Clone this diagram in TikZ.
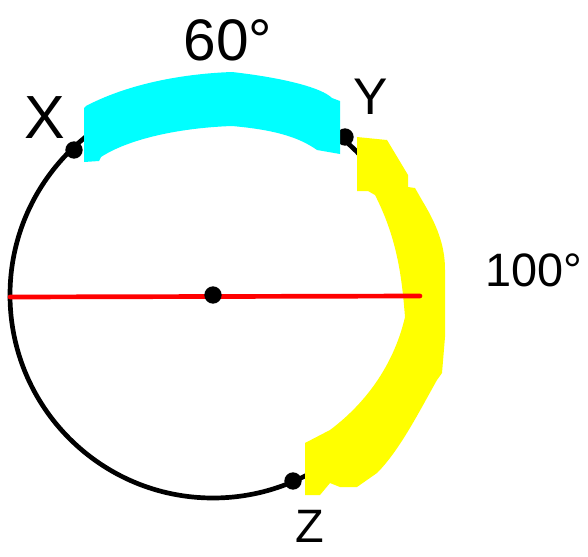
\documentclass[tikz,border=0pt]{standalone}
\usepackage{fontspec}
\setmainfont{Liberation Sans}
\usetikzlibrary{positioning}
\definecolor{Aqua}{HTML}{00FFFF}
\definecolor{Lemon}{HTML}{FFFF00}
\definecolor{Scarlet}{HTML}{FF0000}
\tikzset{
  pt/.style={circle,fill=black,inner sep=0pt,minimum size=.52cm},
  lbl/.style={inner sep=0pt,font=\fontsize{44}{50}\selectfont},
}
\begin{document}
\begin{tikzpicture}[x=.03cm,y=-.03cm,line width=4pt]
    \useasboundingbox (0,0) rectangle (588,556);
    \coordinate (O) at (213,295);
    \draw (O) circle[radius=203*.03cm];
    \node[pt] (X) at (74,150) {};
    \node[pt] (Y) at (345,137) {};
    \node[pt] (Z) at (293,481) {};
    % highlighted arcs
    \fill[Aqua] (84,108) -- (86,106) .. controls (124,86) and (176,74) .. (232,72)
      .. controls (285,78) and (322,88) .. (332,98) -- (340,101) -- (340,154)
      -- (317,150) .. controls (300,138) and (277,130) .. (232,126)
      .. controls (176,128) and (127,140) .. (101,157) -- (99,161) -- (84,162) -- cycle;
    \fill[Lemon] (357,137) -- (387,140) -- (393,150) -- (408,175) -- (408,187) -- (415,188)
      -- (423,202) .. controls (440,230) and (445,250) .. (445,270) -- (445,337)
      -- (442,373) -- (437,380) .. controls (420,410) and (400,450) .. (377,473)
      -- (357,487) -- (340,487) -- (330,483) -- (320,495) -- (305,495) -- (305,443)
      -- (330,430) .. controls (370,400) and (395,360) .. (405,317)
      .. controls (402,280) and (398,240) .. (375,195) -- (368,191) -- (357,191) -- cycle;
    % diameter
    \coordinate (L) at (10,297);
    \coordinate (R) at (420,296);
    \draw[Scarlet,line cap=round] (L) -- (R);
    \node[pt] (C) at (O) {};
    % labels
    \node[lbl,font=\fontsize{52}{60}\selectfont] (lx) at (45,118) {X};
    \node[lbl] (ly) at (371,97) {Y};
    \node[lbl,font=\fontsize{40}{48}\selectfont] (lz) at (310,526) {Z};
    \node[lbl,font=\fontsize{50}{60}\selectfont] (la) at (228,40) {60°};
    \node[lbl,font=\fontsize{40}{48}\selectfont] (lb) at (534,270) {100°};
\end{tikzpicture}
\end{document}
